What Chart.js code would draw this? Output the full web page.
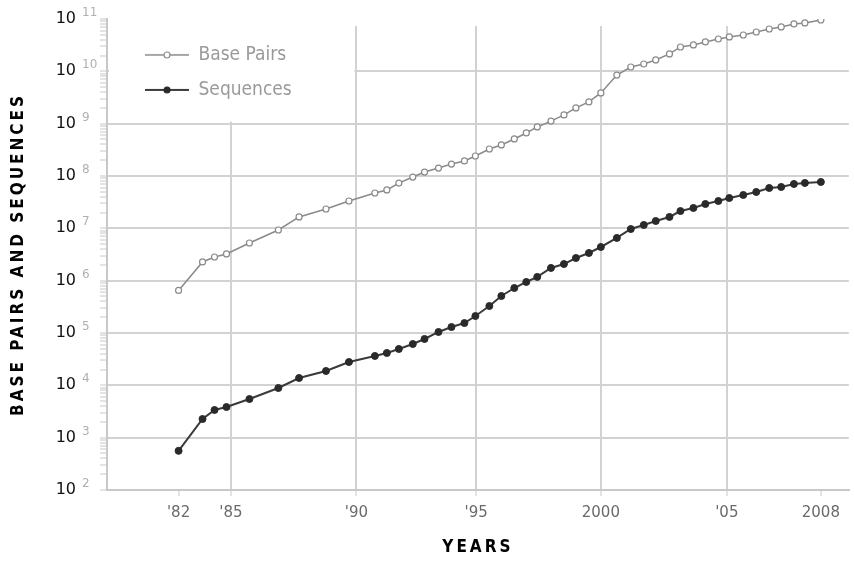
<!DOCTYPE html>
<html>
<head>
<meta charset="utf-8">
<script src="https://cdn.jsdelivr.net/npm/chart.js@4"></script>
<style>
  html, body { margin: 0; padding: 0; background: #fff; }
  #wrap { width: 854px; height: 562px; }
</style>
</head>
<body>
<div id="wrap"><canvas id="chart" width="854" height="562"></canvas></div>
<script>
/* GenBank growth */

// release dates (decimal years)
const years = [
  1983.07, 1984.03, 1984.51, 1984.99, 1985.91, 1987.07, 1987.90, 1988.98, 1989.90,
  1990.94, 1991.42, 1991.90, 1992.46, 1992.93, 1993.49, 1994.01, 1994.53, 1994.97,
  1995.53, 1996.01, 1996.53, 1997.01, 1997.45, 1998.00, 1998.52, 1999.00, 1999.52,
  2000.00, 2000.64, 2001.20, 2001.72, 2002.20, 2002.75, 2003.19, 2003.71, 2004.19,
  2004.71, 2005.15, 2005.71, 2006.23, 2006.75, 2007.23, 2007.74, 2008.18, 2008.82
];

const basePairs = [
  6.5e5, 2.28e6, 2.83e6, 3.24e6, 5.25e6, 9.3e6, 1.65e7, 2.34e7, 3.33e7,
  4.73e7, 5.41e7, 7.33e7, 9.55e7, 1.19e8, 1.42e8, 1.69e8, 1.94e8, 2.41e8,
  3.28e8, 3.92e8, 5.10e8, 6.64e8, 8.65e8, 1.12e9, 1.47e9, 2.00e9, 2.60e9,
  3.86e9, 8.5e9, 1.21e10, 1.38e10, 1.65e10, 2.15e10, 2.92e10, 3.19e10, 3.64e10,
  4.15e10, 4.54e10, 4.95e10, 5.65e10, 6.44e10, 7.05e10, 8.04e10, 8.40e10, 9.58e10
];

const sequences = [
  560, 2275, 3380, 3850, 5480, 8890, 13800, 18800, 27900,
  36400, 41500, 49500, 61600, 76900, 104600, 130000, 155000, 211000,
  328000, 509000, 724000, 944000, 1.18e6, 1.75e6, 2.08e6, 2.71e6, 3.38e6,
  4.40e6, 6.55e6, 9.7e6, 1.16e7, 1.38e7, 1.65e7, 2.14e7, 2.45e7, 2.92e7,
  3.33e7, 3.80e7, 4.34e7, 4.95e7, 5.90e7, 6.17e7, 7.04e7, 7.36e7, 7.69e7
];

// x-axis ticks
const tickYears = [1983.07, 1985.17, 1990.2, 1995.0, 2000.0, 2005.05, 2008.82];
const tickLabels = ["'82", "'85", "'90", "'95", "2000", "'05", "2008"];

// y-axis decades (exponents of 10)
const decades = [2, 3, 4, 5, 6, 7, 8, 9, 10, 11];

const colors = {
  grid: '#d2d2d2',
  axis: '#c8c8c8',
  bpLine: '#8a8a8a',
  seqLine: '#3a3a3a',
  seqDot: '#2a2a2a',
  legendText: '#9a9a9a',
  tickText: '#6a6a6a',
  expText: '#b0b0b0'
};

Chart.defaults.font.family = "'DejaVu Sans', sans-serif";

/** legend sample: line with a marker in the middle */
function legendSample(lineColor, fill, stroke, lineWidth) {
  const c = document.createElement('canvas');
  c.width = 66;
  c.height = 12;
  const g = c.getContext('2d');
  g.strokeStyle = lineColor;
  g.lineWidth = lineWidth;
  g.beginPath();
  g.moveTo(22, 6);
  g.lineTo(66, 6);
  g.stroke();
  g.beginPath();
  g.arc(44, 6, 3, 0, Math.PI * 2);
  g.fillStyle = fill;
  g.fill();
  g.strokeStyle = stroke;
  g.lineWidth = 1.2;
  g.stroke();
  return c;
}

const samples = [
  legendSample(colors.bpLine, '#fff', colors.bpLine, 1.5),
  legendSample(colors.seqLine, colors.seqDot, colors.seqDot, 2)
];

// wider letter spacing on axis titles
const titleSpacing = {
  id: 'titleSpacing',
  beforeDraw(chart) {
    [['x', '3px'], ['y', '3px']].forEach(([id, sp]) => {
      const s = chart.scales[id];
      if (!s || s._spaced) return;
      const orig = s.drawTitle.bind(s);
      s.drawTitle = function() {
        const ctx = this.ctx;
        ctx.save();
        ctx.letterSpacing = sp;
        orig();
        ctx.restore();
      };
      s._spaced = true;
    });
  }
};

// keep the grid away from the legend, then draw the legend on top
const legendClear = {
  id: 'legendClear',
  beforeDatasetsDraw(chart) {
    const {ctx, chartArea: a, scales: {x, y}} = chart;
    const x90 = x.getPixelForValue(tickYears[2]);
    const y9 = y.getPixelForValue(1e9);
    ctx.save();
    ctx.fillStyle = '#fff';
    ctx.fillRect(a.left + 2, a.top - 2, x90 - a.left - 4, y9 - a.top);
    ctx.fillRect(a.left + 2, a.top - 2, a.right - a.left, 9);
    ctx.restore();
    if (chart.legend) chart.legend.draw();
  }
};

// grey exponent next to each "10"
const exponents = {
  id: 'exponents',
  afterDraw(chart) {
    const {ctx, scales: {y}} = chart;
    ctx.save();
    ctx.font = "12px 'DejaVu Sans', sans-serif";
    ctx.fillStyle = colors.expText;
    ctx.textAlign = 'left';
    ctx.textBaseline = 'middle';
    const labelRight = y.right - 7 - 24;
    decades.forEach(e => {
      const py = y.getPixelForValue(Math.pow(10, e));
      ctx.fillText(String(e), labelRight + 6, py - 6);
    });
    ctx.restore();
  }
};

const data = {
  datasets: [
    {
      label: 'Base Pairs',
      data: years.map((yr, i) => ({x: yr, y: basePairs[i]})),
      borderColor: colors.bpLine,
      borderWidth: 1.5,
      pointRadius: 3,
      pointBackgroundColor: '#fff',
      pointBorderColor: colors.bpLine,
      pointBorderWidth: 1.2,
      tension: 0
    },
    {
      label: 'Sequences',
      data: years.map((yr, i) => ({x: yr, y: sequences[i]})),
      borderColor: colors.seqLine,
      borderWidth: 2,
      pointRadius: 3.5,
      pointBackgroundColor: colors.seqDot,
      pointBorderColor: colors.seqDot,
      pointBorderWidth: 1,
      tension: 0
    }
  ]
};

new Chart(document.getElementById('chart'), {
  type: 'line',
  data: data,
  plugins: [titleSpacing, legendClear, exponents],
  options: {
    responsive: false,
    animation: false,
    layout: { padding: { top: 19, right: 2, left: 0, bottom: 0 } },
    plugins: {
      tooltip: { enabled: false },
      legend: {
        position: 'chartArea',
        align: 'start',
        title: { display: true, text: '', font: { size: 7 }, padding: { top: 21, bottom: 0 } },
        labels: {
          usePointStyle: true,
          pointStyleWidth: 66,
          padding: 16,
          color: colors.legendText,
          font: { family: "'DejaVu Sans Condensed', sans-serif", size: 19 },
          generateLabels(chart) {
            return chart.data.datasets.map((ds, i) => ({
              text: ds.label,
              pointStyle: samples[i],
              fillStyle: 'transparent',
              strokeStyle: 'transparent',
              lineWidth: 0,
              fontColor: colors.legendText,
              hidden: false,
              datasetIndex: i
            }));
          }
        }
      }
    },
    scales: {
      x: {
        type: 'linear',
        min: 1980.2,
        max: 2009.94,
        afterBuildTicks(scale) {
          scale.ticks = tickYears.map(v => ({value: v}));
        },
        afterFit(scale) {
          scale.height = 72;
          scale.paddingLeft = 0;
          scale.paddingRight = 0;
        },
        ticks: {
          autoSkip: false,
          maxRotation: 0,
          padding: 8,
          color: colors.tickText,
          font: { size: 15 },
          callback: (value, index) => tickLabels[index]
        },
        grid: {
          lineWidth: 2,
          color: ctx => (ctx.index === 0 || ctx.index === tickYears.length - 1) ? 'rgba(0,0,0,0)' : colors.grid,
          tickColor: colors.axis,
          tickLength: 6,
          tickWidth: 1
        },
        border: { color: colors.axis, width: 2 },
        title: {
          display: true,
          text: 'YEARS',
          color: '#000',
          font: { family: "'DejaVu Sans Condensed', sans-serif", size: 17, weight: 'bold' },
          padding: { top: 0, bottom: 4 }
        }
      },
      y: {
        type: 'logarithmic',
        min: 100,
        max: 1e11,
        afterBuildTicks(scale) {
          const t = [];
          decades.forEach(e => {
            t.push({value: Math.pow(10, e), major: true});
            if (e < decades[decades.length - 1]) {
              for (let m = 2; m <= 9; m++) t.push({value: m * Math.pow(10, e), major: false});
            }
          });
          scale.ticks = t;
        },
        afterFit(scale) {
          scale.width = 107;
          scale.paddingTop = 0;
          scale.paddingBottom = 0;
        },
        ticks: {
          autoSkip: false,
          padding: 24,
          color: '#111',
          font: { size: 16 },
          callback: function(value, index, ticks) {
            return ticks[index].major ? '10' : '';
          }
        },
        grid: {
          lineWidth: 2,
          color: ctx => (ctx.tick && ctx.tick.major && ctx.tick.value < 1e11) ? colors.grid : 'rgba(0,0,0,0)',
          tickColor: colors.axis,
          tickLength: 7,
          tickWidth: 1
        },
        border: { color: colors.axis, width: 2 },
        title: {
          display: true,
          text: 'BASE PAIRS AND SEQUENCES',
          color: '#000',
          font: { family: "'DejaVu Sans Condensed', sans-serif", size: 17, weight: 'bold' },
          padding: { top: 8, bottom: 0 }
        }
      }
    }
  }
});
</script>
</body>
</html>
